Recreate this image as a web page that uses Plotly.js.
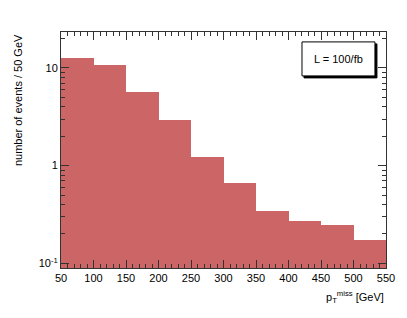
<!DOCTYPE html>
<html><head><meta charset="utf-8">
<script src="https://cdn.plot.ly/plotly-3.0.1.min.js"></script>
<style>body{margin:0;padding:0;background:#fff}#c{width:407px;height:318px}</style>
</head><body><div id="c"></div>
<script>
const binCenters = [75,125,175,225,275,325,375,425,475,525];
const binWidth = 50;
const counts = [12.6,10.6,5.7,2.95,1.22,0.66,0.345,0.273,0.247,0.175];
const xTickVals = [50,100,150,200,250,300,350,400,450,500,550];
const yTickVals = [0.1,1,10];
const yTickText = ['10<sup>-1</sup>','1','10'];
const yMinorVals = [0.2,0.3,0.4,0.5,0.6,0.7,0.8,0.9,2,3,4,5,6,7,8,9,20];
const lumiText = 'L = 100/fb';

const font = {family:'Liberation Sans, Arial, sans-serif', size:11, color:'#000'};
const data = [{
  type:'bar', x:binCenters, y:counts, width:binWidth,
  marker:{color:'#cc6666', line:{width:0}},
  hoverinfo:'skip'
}];
const px = 1/325, py = 1/236;
const layout = {
  width:407, height:318,
  margin:{l:61, r:21, t:32, b:50},
  paper_bgcolor:'#fff', plot_bgcolor:'#fff',
  font:font, showlegend:false, bargap:0,
  xaxis:{range:[50,550], tickmode:'array', tickvals:xTickVals,
    ticks:'inside', ticklen:8, tickcolor:'#333', showline:true, linecolor:'#333', linewidth:1,
    mirror:'allticks', showgrid:false, zeroline:false, tickfont:font,
    minor:{dtick:10, tick0:50, ticks:'inside', ticklen:4, tickcolor:'#333', showgrid:false}},
  yaxis:{type:'log', range:[-1.048,1.368], tickmode:'array', tickvals:yTickVals, ticktext:yTickText,
    ticks:'inside', ticklen:8, tickcolor:'#333', showline:true, linecolor:'#333', linewidth:1,
    mirror:'allticks', showgrid:false, zeroline:false, tickfont:font,
    minor:{tickmode:'array', tickvals:yMinorVals, ticks:'inside', ticklen:4, tickcolor:'#333', showgrid:false}},
  shapes:[
    {type:'rect', xref:'paper', yref:'paper', x0:0.7415+2*px, x1:0.966+2*px, y0:0.814-2*py, y1:0.958-2*py,
     fillcolor:'#000', line:{color:'#000', width:1}},
    {type:'rect', xref:'paper', yref:'paper', x0:0.7415, x1:0.966, y0:0.814, y1:0.958,
     fillcolor:'#fff', line:{color:'#000', width:1}}
  ],
  annotations:[
    {text:'number of events / 50 GeV', xref:'paper', yref:'paper', x:-0.132, y:1, xanchor:'center', yanchor:'top',
     textangle:-90, showarrow:false, font:font},
    {text:'p<sub>T</sub><sup>miss</sup> [GeV]', xref:'paper', yref:'paper', x:1, y:-0.123, xanchor:'right', yanchor:'middle',
     showarrow:false, font:font},
    {text:lumiText, xref:'paper', yref:'paper', x:(0.7415+0.966)/2, y:(0.814+0.958)/2, xanchor:'center', yanchor:'middle',
     showarrow:false, font:font}
  ]
};
Plotly.newPlot('c', data, layout, {staticPlot:true});
</script></body></html>
